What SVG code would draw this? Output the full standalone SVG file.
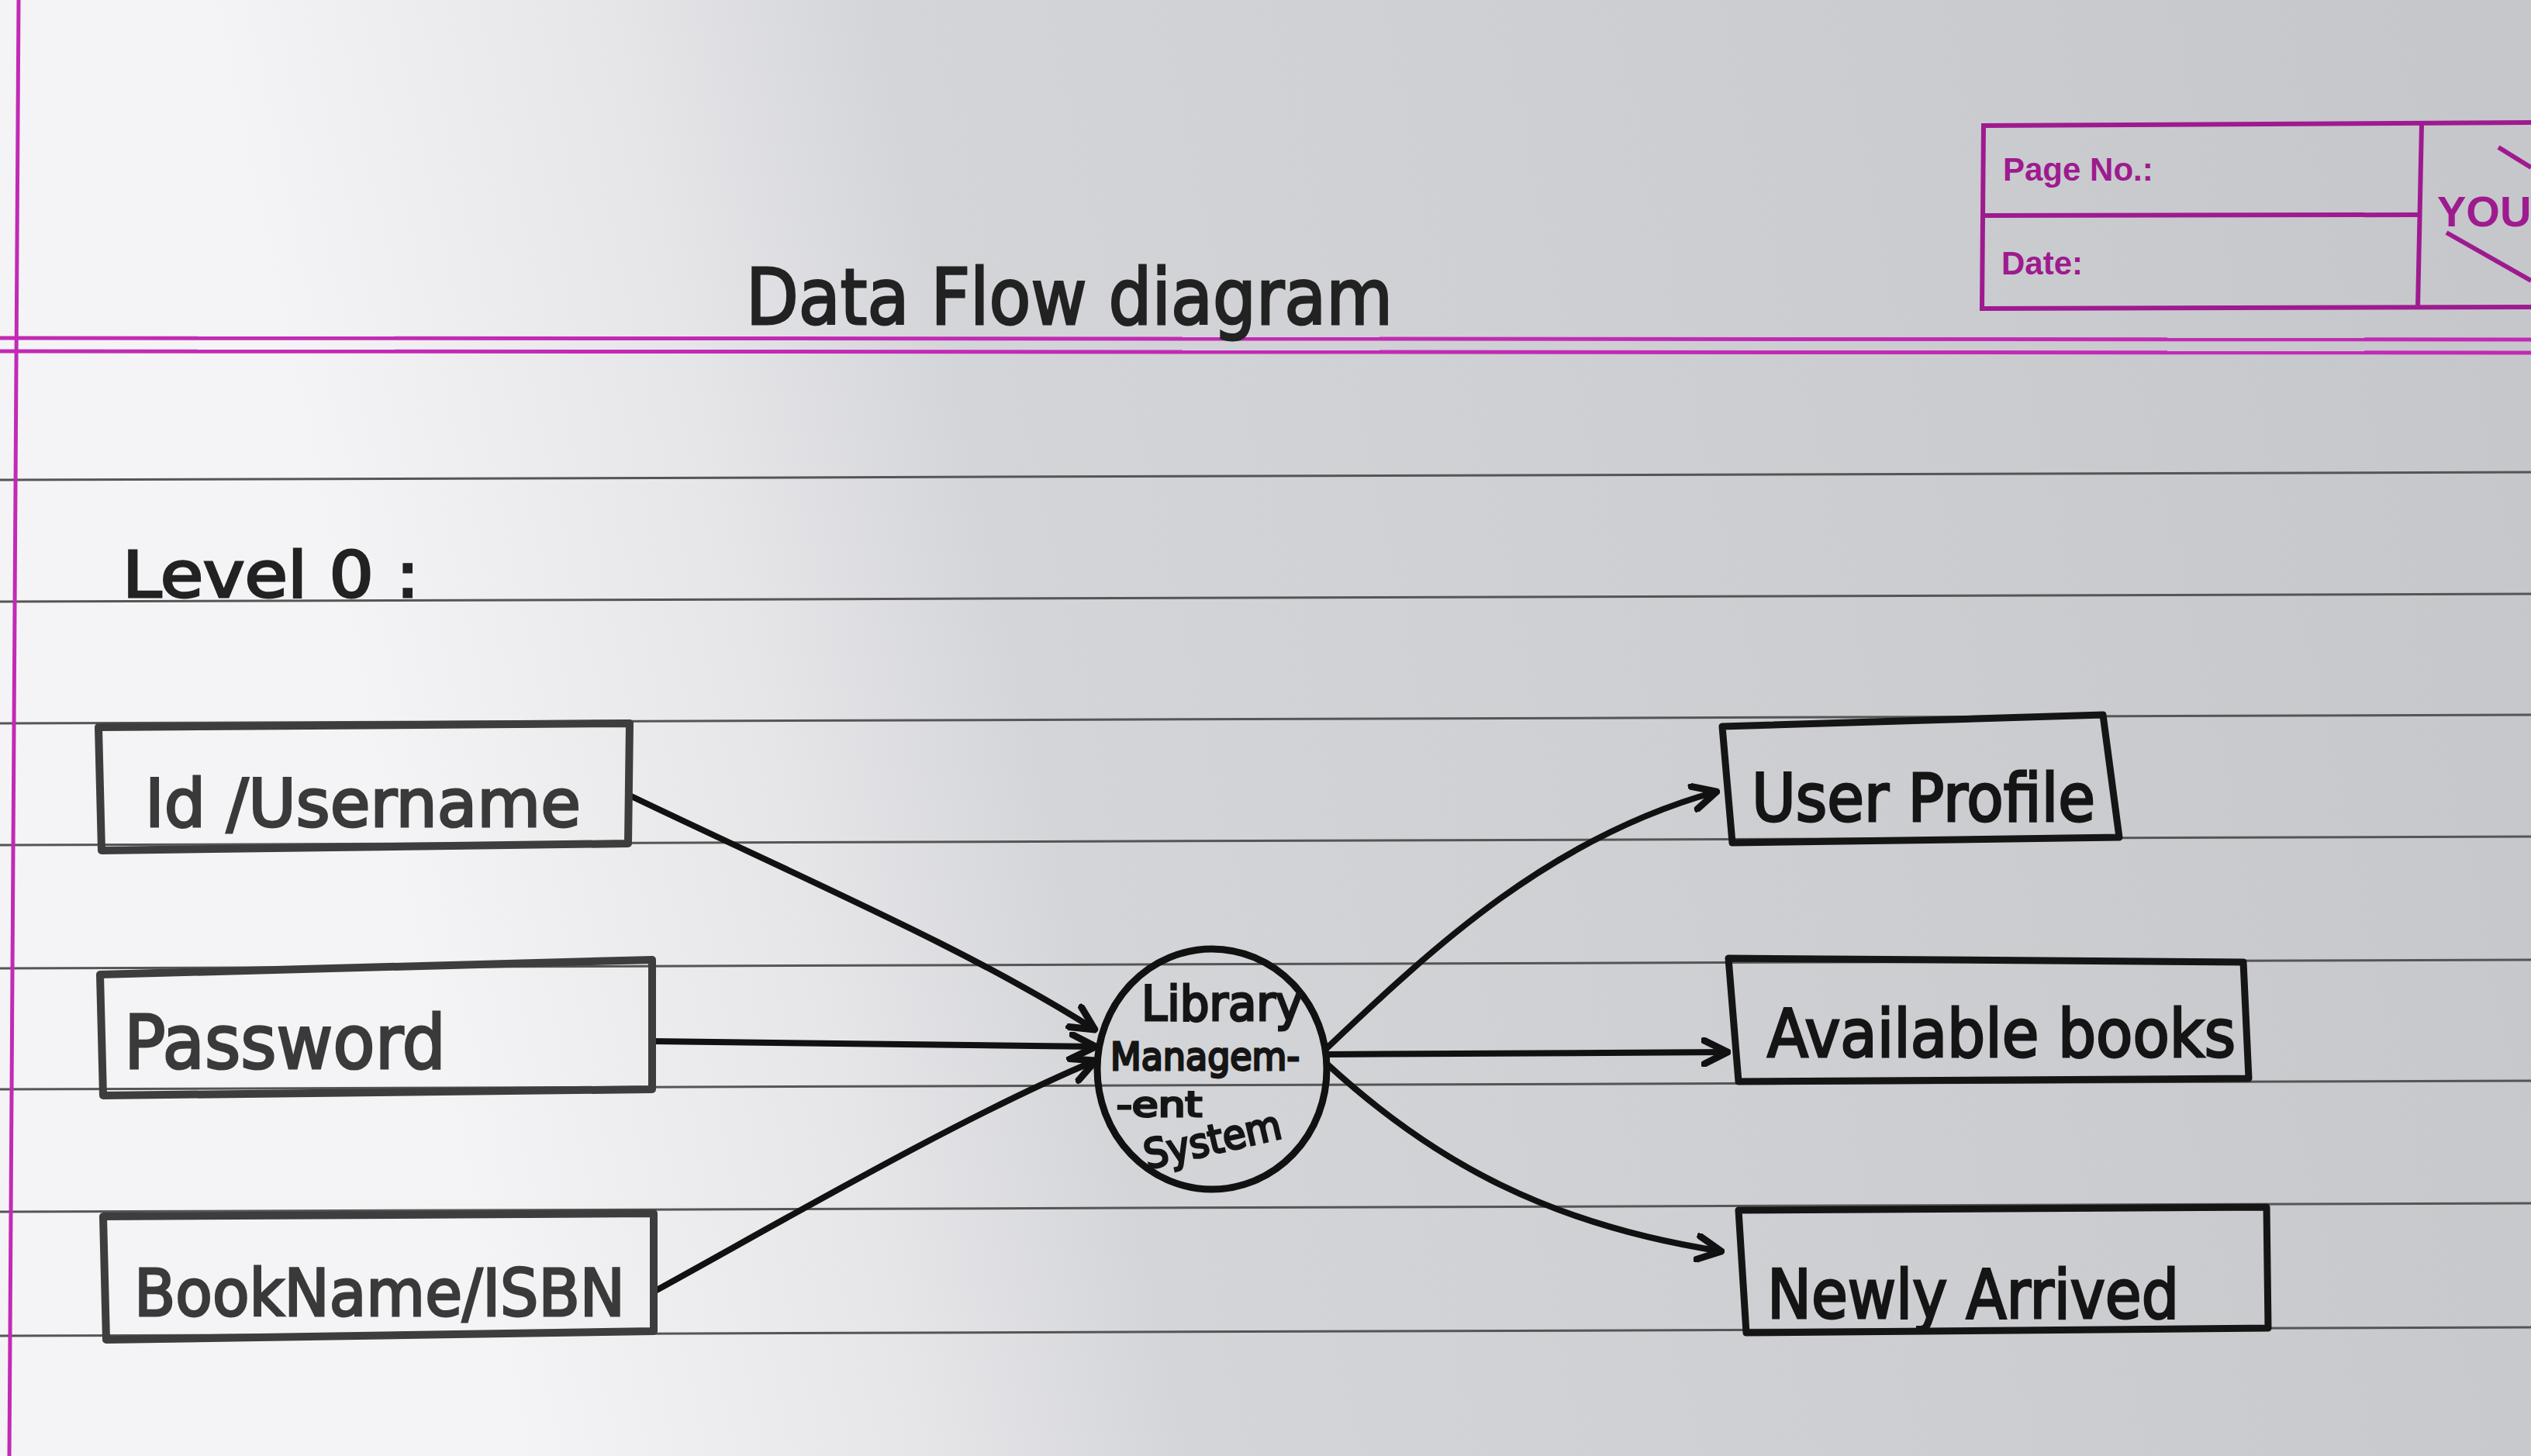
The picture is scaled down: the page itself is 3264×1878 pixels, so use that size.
<svg xmlns="http://www.w3.org/2000/svg" width="3264" height="1878" viewBox="0 0 3264 1878">
<defs>
<linearGradient id="paper" gradientUnits="userSpaceOnUse" x1="500" y1="1100" x2="3264" y2="500">
<stop offset="0" stop-color="#f4f4f6"/>
<stop offset="0.18" stop-color="#e6e6e9"/>
<stop offset="0.3" stop-color="#d4d5d9"/>
<stop offset="1" stop-color="#c6c7cb"/>
</linearGradient>
<marker id="arr" viewBox="0 0 30 30" refX="27" refY="15" markerWidth="38" markerHeight="38" markerUnits="userSpaceOnUse" orient="auto">
<path d="M3,3 L27,15 L3,27" fill="none" stroke="#111" stroke-width="7" stroke-linecap="round" stroke-linejoin="round"/>
</marker>
<style>
.rule{stroke:#555;stroke-width:3;fill:none}
.pink{stroke:#c22ab5;stroke-width:5;fill:none}
.hdr{stroke:#9e1b8f;stroke-width:6;fill:none}
.print{font-family:"Liberation Sans",Arial,sans-serif;font-weight:bold;fill:#9e1b8f}
.hand{font-family:"DejaVu Sans","Liberation Sans",sans-serif;fill:#222;stroke:#222;stroke-width:3}
.boxL{fill:none;stroke:#3d3d3d;stroke-width:10;stroke-linejoin:round}
.boxR{fill:none;stroke:#151515;stroke-width:9;stroke-linejoin:round}
.flow{fill:none;stroke:#111;stroke-width:8;stroke-linecap:round}
.lblL{font-family:"DejaVu Sans","Liberation Sans",sans-serif;fill:#3a3a3a;stroke:#3a3a3a;stroke-width:3}
.lblR{font-family:"DejaVu Sans","Liberation Sans",sans-serif;fill:#151515;stroke:#151515;stroke-width:3}
</style>
</defs>
<rect width="3264" height="1878" fill="url(#paper)"/>

<!-- ruled lines -->
<g id="ruled">
<line class="rule" x1="0" y1="619" x2="3264" y2="609"/>
<line class="rule" x1="0" y1="776" x2="3264" y2="766"/>
<line class="rule" x1="0" y1="933" x2="3264" y2="922"/>
<line class="rule" x1="0" y1="1090" x2="3264" y2="1079"/>
<line class="rule" x1="0" y1="1249" x2="3264" y2="1238"/>
<line class="rule" x1="0" y1="1405" x2="3264" y2="1394"/>
<line class="rule" x1="0" y1="1563" x2="3264" y2="1552"/>
<line class="rule" x1="0" y1="1723" x2="3264" y2="1712"/>
</g>

<!-- pink margins -->
<g id="margins">
<line class="pink" x1="24" y1="0" x2="12" y2="1878"/>
<line class="pink" x1="0" y1="436" x2="3264" y2="438"/>
<line class="pink" x1="0" y1="453" x2="3264" y2="455"/>
</g>

<!-- header box -->
<g id="header">
<polyline class="hdr" points="3264,158 2558,162 2556,398 3264,396"/>
<line class="hdr" x1="2557" y1="278" x2="3120" y2="277"/>
<line class="hdr" x1="3123" y1="160" x2="3118" y2="397"/>
<text class="print" x="2583" y="233" font-size="42">Page No.:</text>
<text class="print" x="2581" y="354" font-size="42">Date:</text>
<text class="print" x="3143" y="292" font-size="56">YOU</text>
<polyline class="hdr" points="3222,190 3264,216"/>
<polyline class="hdr" points="3155,300 3264,362"/>
</g>

<!-- titles -->
<g id="title">
<text class="hand" x="962" y="418" font-size="100" textLength="834" lengthAdjust="spacingAndGlyphs">Data Flow diagram</text>
</g>
<g id="level">
<text class="hand" x="158" y="770" font-size="82" fill="#3a3a3a" stroke="#3a3a3a" textLength="383" lengthAdjust="spacingAndGlyphs">Level 0 :</text>
</g>

<!-- connectors -->
<g id="connectors">
<path class="flow" d="M812,1026 C1050,1140 1250,1225 1412,1328" marker-end="url(#arr)"/>
<path class="flow" d="M841,1343 L1413,1350" marker-end="url(#arr)"/>
<path class="flow" d="M845,1665 C1000,1580 1240,1440 1413,1368" marker-end="url(#arr)"/>
<path class="flow" d="M1711,1352 C1850,1220 2000,1080 2214,1021" marker-end="url(#arr)"/>
<path class="flow" d="M1711,1360 L2228,1357" marker-end="url(#arr)"/>
<path class="flow" d="M1711,1372 C1850,1500 2000,1580 2220,1614" marker-end="url(#arr)"/>
</g>

<!-- input entities -->
<g id="node-id-username">
<polygon class="boxL" points="127,938 812,933 810,1088 131,1097"/>
<text class="lblL" x="187" y="1066" font-size="86" textLength="562" lengthAdjust="spacingAndGlyphs">Id /Username</text>
</g>
<g id="node-password">
<polygon class="boxL" points="129,1257 841,1238 841,1405 133,1413"/>
<text class="lblL" x="160" y="1378" font-size="96" textLength="415" lengthAdjust="spacingAndGlyphs">Password</text>
</g>
<g id="node-bookname-isbn">
<polygon class="boxL" points="133,1569 843,1565 843,1717 137,1728"/>
<text class="lblL" x="173" y="1697" font-size="84" textLength="633" lengthAdjust="spacingAndGlyphs">BookName/ISBN</text>
</g>

<!-- process -->
<g id="node-lms">
<ellipse cx="1563" cy="1379" rx="148" ry="155" fill="none" stroke="#111" stroke-width="9"/>
<text class="lblR" x="1472" y="1316" font-size="62" textLength="208" lengthAdjust="spacingAndGlyphs">Library</text>
<text class="lblR" x="1432" y="1380" font-size="50" textLength="244" lengthAdjust="spacingAndGlyphs">Managem-</text>
<text class="lblR" x="1440" y="1440" font-size="44" textLength="110" lengthAdjust="spacingAndGlyphs">-ent</text>
<text class="lblR" x="1480" y="1508" font-size="52" textLength="180" lengthAdjust="spacingAndGlyphs" transform="rotate(-13 1480 1508)">System</text>
</g>

<!-- output entities -->
<g id="node-user-profile">
<polygon class="boxR" points="2221,937 2712,922 2733,1080 2234,1087"/>
<text class="lblR" x="2259" y="1059" font-size="86" textLength="443" lengthAdjust="spacingAndGlyphs">User Profile</text>
</g>
<g id="node-available-books">
<polygon class="boxR" points="2229,1236 2893,1241 2900,1391 2242,1395"/>
<text class="lblR" x="2279" y="1363" font-size="86" textLength="604" lengthAdjust="spacingAndGlyphs">Available  books</text>
</g>
<g id="node-newly-arrived">
<polygon class="boxR" points="2242,1561 2923,1557 2925,1713 2252,1719"/>
<text class="lblR" x="2279" y="1700" font-size="88" textLength="531" lengthAdjust="spacingAndGlyphs">Newly Arrived</text>
</g>
</svg>
